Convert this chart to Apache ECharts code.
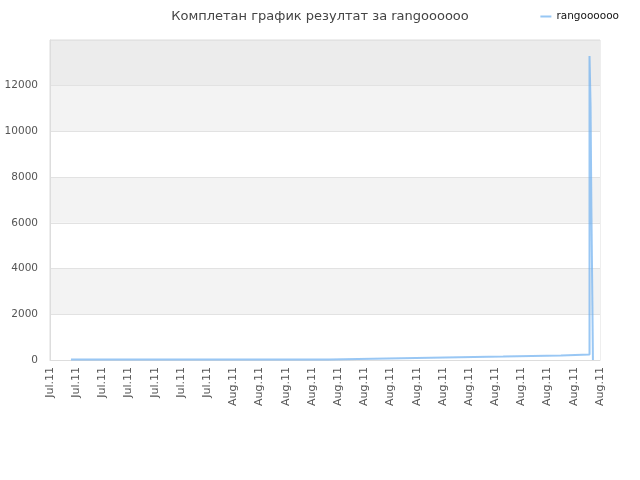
<!DOCTYPE html>
<html>
<head>
<meta charset="utf-8">
<script src="https://cdn.jsdelivr.net/npm/echarts@6/dist/echarts.min.js"></script>
<style>
  html, body { margin: 0; padding: 0; background: #fff; }
  #main { width: 640px; height: 480px; }
</style>
</head>
<body>
<div id="main"></div>
<script>
var chartDom = document.getElementById('main');
var myChart = echarts.init(chartDom);
var option;

// tick labels under the x axis
var tickLabels = ['Jul.11', 'Jul.11', 'Jul.11', 'Jul.11', 'Jul.11', 'Jul.11', 'Jul.11',
    'Aug.11', 'Aug.11', 'Aug.11', 'Aug.11', 'Aug.11', 'Aug.11', 'Aug.11', 'Aug.11',
    'Aug.11', 'Aug.11', 'Aug.11', 'Aug.11', 'Aug.11', 'Aug.11', 'Aug.11'];

// positions along the axis (in tick units) and values
var xs = [0.80, 5.72, 5.74, 5.76, 9.42, 9.44, 9.46, 10.65, 12.87, 15.08, 17.30, 19.51, 20.60, 20.64, 20.67, 20.71, 20.73];
var ys = [25, 25, 45, 25, 25, 80, 25, 70, 110, 150, 195, 240, 13300, 11100, 6700, 2400, 0];

var seriesName = 'rangoooooo';

var points = xs.map(function (x, i) { return [x, ys[i]]; });

option = {
    animation: false,
    title: {
        text: 'Комплетан график резултат за rangoooooo',
        left: 'center',
        top: 5,
        textStyle: {
            fontFamily: 'DejaVu Sans',
            fontSize: 13,
            fontWeight: 'normal',
            color: '#444'
        }
    },
    legend: {
        right: 16,
        top: 6,
        itemWidth: 11,
        itemHeight: 2,
        itemGap: 8,
        icon: 'rect',
        textStyle: {
            fontFamily: 'DejaVu Sans',
            fontSize: 10.5,
            color: '#111'
        },
        data: [seriesName]
    },
    grid: {
        left: 50,
        right: 40,
        top: 40,
        bottom: 120,
        outerBoundsMode: 'none',
        containLabel: false,
        show: true,
        borderColor: '#ddd',
        borderWidth: 1
    },
    xAxis: {
        type: 'value',
        min: 0,
        max: tickLabels.length - 1,
        interval: 1,
        axisLine: { lineStyle: { color: '#ddd' } },
        axisTick: { show: false },
        splitLine: { show: false },
        axisLabel: {
            rotate: 90,
            fontFamily: 'DejaVu Sans',
            fontSize: 11,
            color: '#555',
            margin: 7,
            showMinLabel: true,
            showMaxLabel: true,
            formatter: function (v) { return tickLabels[Math.round(v)] || ''; }
        }
    },
    yAxis: {
        type: 'value',
        min: 0,
        max: 14000,
        interval: 2000,
        axisLine: { show: true, lineStyle: { color: '#ddd' } },
        axisTick: { show: false },
        axisLabel: {
            fontFamily: 'DejaVu Sans',
            fontSize: 10.5,
            color: '#555',
            margin: 12,
            showMaxLabel: false,
            formatter: function (v) { return String(v); }
        },
        splitLine: { lineStyle: { color: '#e2e2e2' } },
        splitArea: {
            show: true,
            areaStyle: {
                color: ['#ffffff', '#f3f3f3', '#ffffff', '#f3f3f3', '#ffffff', '#f3f3f3', '#ececec']
            }
        }
    },
    series: [{
        name: seriesName,
        type: 'line',
        step: 'end',
        showSymbol: false,
        data: points,
        color: '#97c7f4',
        lineStyle: {
            width: 2,
            color: 'rgba(110, 175, 240, 0.7)'
        }
    }]
};

option && myChart.setOption(option);
</script>
</body>
</html>
